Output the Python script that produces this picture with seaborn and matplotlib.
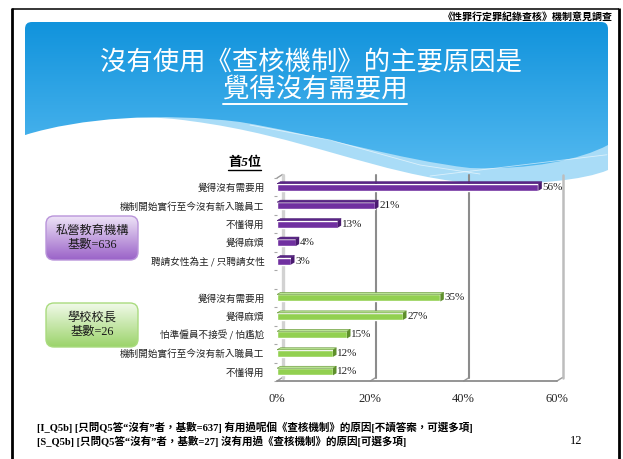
import numpy as np
import pandas as pd
import matplotlib
matplotlib.use("Agg")
import matplotlib.pyplot as plt
import seaborn as sns
from matplotlib.patches import Polygon, FancyBboxPatch, PathPatch
from matplotlib.path import Path
import matplotlib.transforms as mtransforms
from matplotlib.colors import to_rgb

# ---------------- data ----------------
groups = ["私營教育機構", "學校校長"]
group_bases = [636, 26]
private_reasons = ["覺得沒有需要用", "機制開始實行至今沒有新入職員工", "不懂得用",
                   "覺得麻煩", "聘請女性為主 / 只聘請女性"]
private_values = [56, 21, 13, 4, 3]
school_reasons = ["覺得沒有需要用", "覺得麻煩", "怕準僱員不接受 / 怕尷尬",
                  "機制開始實行至今沒有新入職員工", "不懂得用"]
school_values = [35, 27, 15, 12, 12]
x_ticks = [0, 20, 40, 60]

title_line1 = "沒有使用《查核機制》的主要原因是"
title_line2 = "覺得沒有需要用"
header_text = "《性罪行定罪紀錄查核》機制意見調查"
subtitle_text = "首5位"
footnotes = ["[I_Q5b] [只問Q5答“沒有”者，基數=637] 有用過呢個《查核機制》的原因[不讀答案，可選多項]",
             "[S_Q5b] [只問Q5答“沒有”者，基數=27] 沒有用過《查核機制》的原因[可選多項]"]
page_number = "12"

colors = {groups[0]: "#7030A0", groups[1]: "#92D050"}
top_colors = {groups[0]: "#5A2589", groups[1]: "#B9E394"}
side_colors = {groups[0]: "#4A1A70", groups[1]: "#5E8F2C"}

rows = []
for g, reasons, vals in [(groups[0], private_reasons, private_values),
                         (groups[1], school_reasons, school_values)]:
    for r, v in zip(reasons, vals):
        rows.append({"group": g, "reason": r, "key": f"{g}|{r}", "value": v})
df = pd.DataFrame(rows)
order = ([f"{groups[0]}|{r}" for r in private_reasons] + ["__gap__"] +
         [f"{groups[1]}|{r}" for r in school_reasons])
tick_labels = private_reasons + [""] + school_reasons

# ---------------- figure ----------------
sns.set_style("white")
plt.rcParams["font.family"] = ["Liberation Serif", "Noto Sans CJK TC", "DejaVu Sans"]
CJK = ["Noto Sans CJK TC", "DejaVu Sans"]
SERIF_CJK = ["Liberation Serif", "Noto Sans CJK TC"]

W, H = 623, 459
fig = plt.figure(figsize=(W / 100, H / 100), dpi=100)
fig.patch.set_facecolor("white")

bg = fig.add_axes([0, 0, 1, 1], zorder=0)
bg.set_xlim(0, W)
bg.set_ylim(H, 0)
bg.axis("off")

# slide frame
bg.plot([11.5, 11.5], [8, H], color="black", lw=2.0, solid_capstyle="butt")
bg.plot([11.5, 619], [8.5, 8.5], color="black", lw=1.1, solid_capstyle="butt")
bg.plot([618.5, 618.5], [8, H], color="black", lw=2.0, solid_capstyle="butt")

# banner: light band shape and solid gradient shape
M, L, C = Path.MOVETO, Path.LINETO, Path.CURVE4
band_bottom = [(608, 170), (585, 180), (530, 186), (470, 183),
               (380, 175), (300, 135), (190, 121),
               (130, 112), (60, 120), (25, 135)]
blue_bottom = [(608, 145), (580, 160), (530, 170), (470, 168),
               (400, 160), (320, 135), (240, 122),
               (160, 112), (80, 118), (25, 135)]

def make_path(bottom):
    verts = [(25, 30), (25, 24), (27, 22), (33, 22), (600, 22), (606, 22), (608, 24), (608, 30)]
    codes = [M, C, C, C, L, C, C, C]
    verts.append(bottom[0]); codes.append(L)
    for v in bottom[1:]:
        verts.append(v); codes.append(C)
    verts.append((25, 30)); codes.append(L)
    verts.append((25, 30)); codes.append(Path.CLOSEPOLY)
    return Path(verts, codes)

band_patch = PathPatch(make_path(band_bottom), facecolor="#A9DCF7", edgecolor="none", zorder=1)
bg.add_patch(band_patch)
blue_patch = PathPatch(make_path(blue_bottom), facecolor="none", edgecolor="none", zorder=2)
bg.add_patch(blue_patch)
top_c = np.array(to_rgb("#1193DC"))
bot_c = np.array(to_rgb("#57BBF1"))
t = np.linspace(0, 1, 200)[:, None]
grad = (top_c * (1 - t) + bot_c * t)[:, None, :]
im = bg.imshow(grad, extent=[25, 608, 180, 22], aspect="auto", zorder=2, interpolation="bilinear")
im.set_clip_path(blue_patch)
# faint white curves in the wave band
bg.plot(*zip(*[(250, 125), (330, 140), (420, 165), (480, 174)]), color="white", lw=0.6, alpha=0.6, zorder=3)
xs = np.linspace(430, 607, 50)
bg.plot(xs, 176 - (xs - 430) * 0.12, color="white", lw=0.6, alpha=0.6, zorder=3)
bg.set_xlim(0, W)
bg.set_ylim(H, 0)

# titles
bg.text(311, 62, title_line1, ha="center", va="center", color="white",
        fontsize=19, family=CJK, zorder=5)
t2 = bg.text(315, 89, title_line2, ha="center", va="center", color="white",
             fontsize=19, family=CJK, zorder=5)
bg.text(613, 17, header_text, ha="right", va="center", color="black",
        fontsize=7.2, family=CJK, fontweight="bold", style="italic", zorder=5)
st = bg.text(228, 163, subtitle_text, ha="left", va="center", color="black",
             fontsize=9.5, family=SERIF_CJK, fontweight="bold", style="italic", zorder=5)
for i, line in enumerate(footnotes):
    bg.text(37, 427 + 14 * i, line, ha="left", va="center", color="black",
            fontsize=7.6, family=SERIF_CJK, fontweight="bold", zorder=5)
bg.text(570, 441, page_number, ha="left", va="center", color="black",
        fontsize=9, family=SERIF_CJK, zorder=5)

# group boxes
box_specs = [
    (groups[0], group_bases[0], 216, "#EEE4F7", "#9A62C8", "#B994DA"),
    (groups[1], group_bases[1], 303, "#F1FAE9", "#9BD36A", "#A9DB7E"),
]
for name, base, ytop, ctop, cbot, cedge in box_specs:
    box = FancyBboxPatch((46, ytop), 92, 44, boxstyle="round,pad=0,rounding_size=8",
                         facecolor="none", edgecolor=cedge, lw=1.0, zorder=4)
    bg.add_patch(box)
    g = (np.array(to_rgb(ctop)) * (1 - t) + np.array(to_rgb(cbot)) * t)[:, None, :]
    gi = bg.imshow(g, extent=[46, 138, ytop + 44, ytop], aspect="auto", zorder=3, interpolation="bilinear")
    gi.set_clip_path(box)
    bg.text(92, ytop + 22, f"{name}\n基數={base}", ha="center", va="center",
            fontsize=8.8, family=SERIF_CJK, linespacing=1.25, color="#1A1A1A", zorder=5)
bg.set_xlim(0, W)
bg.set_ylim(H, 0)

# ---------------- chart ----------------
ax = fig.add_axes([277 / W, 1 - 381 / H, 280 / W, 203 / H], zorder=2)
ax.patch.set_alpha(0)
sns.barplot(data=df, y="key", x="value", hue="group", order=order,
            hue_order=groups, palette=colors, orient="h", dodge=False,
            width=0.38, saturation=1, legend=False, ax=ax, zorder=3)
ax.set_xlim(0, 60)
ax.set_ylim(10.5, -0.5)
for s in ax.spines.values():
    s.set_visible(False)
ax.set_xlabel("")
ax.set_ylabel("")

# 3-D faces derived from the seaborn bars
dx, dy = 0.75, 0.11
for p in ax.patches:
    w = p.get_width()
    if not np.isfinite(w) or w <= 0:
        continue
    x0, y0, h = p.get_x(), p.get_y(), p.get_height()
    x1 = x0 + w
    fc = p.get_facecolor()
    key = groups[0] if np.allclose(fc[:3], to_rgb(colors[groups[0]]), atol=0.02) else groups[1]
    ax.add_patch(Polygon([(x0, y0), (x0 + dx, y0 - dy), (x1 + dx, y0 - dy), (x1, y0)],
                         closed=True, facecolor=top_colors[key], edgecolor=side_colors[key],
                         lw=0.4, zorder=4))
    ax.add_patch(Polygon([(x1, y0), (x1 + dx, y0 - dy), (x1 + dx, y0 + h - dy), (x1, y0 + h)],
                         closed=True, facecolor=side_colors[key], edgecolor="none", zorder=4))

for cont in ax.containers:
    ax.bar_label(cont, fmt="%g%%", padding=3.2, fontsize=8, family=SERIF_CJK, color="#222222")

# back wall grid lines (offset for 3-D depth)
off = mtransforms.ScaledTranslation(0.055, 0.03, fig.dpi_scale_trans)
wall_tr = ax.get_xaxis_transform() + off
ax.plot([0, 0], [0, 1], color="#D2D2D2", lw=2.4, transform=wall_tr, zorder=1, clip_on=False)
for xv in x_ticks[1:]:
    ax.plot([xv, xv], [0, 1], color="#8C8C8C" if xv < 60 else "#BDBDBD",
            lw=1.5 if xv < 60 else 1.8, transform=wall_tr, zorder=1, clip_on=False)
ax.axhline(10.5, color="#8C8C8C", lw=1.3, zorder=1, clip_on=False)

ax.set_xticks(x_ticks)
ax.set_xticklabels([f"{v}%" for v in x_ticks], fontsize=9, family=SERIF_CJK)
ax.tick_params(axis="x", length=0, pad=9)
ax.set_yticks(range(len(order)))
ax.set_yticklabels(tick_labels, fontsize=6.9, family=CJK, color="#222222")
ax.set_yticks(np.arange(-0.5, len(order), 1.0), minor=True)
ax.tick_params(axis="y", which="major", length=0, pad=9)
ax.tick_params(axis="y", which="minor", length=2.5, color="#A8A8A8", width=0.8, left=True)

# floor diagonal ticks
fig.canvas.draw()
to_bg = bg.transData.inverted()
for xv in x_ticks:
    px, py = to_bg.transform(ax.transData.transform((xv, 10.5)))
    bg.plot([px, px + 5.5], [py, py - 3.5], color="#9A9A9A", lw=1.0, zorder=3)
px, py = to_bg.transform(ax.transData.transform((0, -0.5)))
bg.plot([px, px + 5.5], [py, py - 3.5], color="#9A9A9A", lw=1.0, zorder=3)

# underlines computed from the text extents
r = fig.canvas.get_renderer()
for txt, gap, lw in [(t2, 2, 1.4), (st, 1, 1.0)]:
    bb = txt.get_window_extent(r)
    (ax0, ay0), (ax1, ay1) = to_bg.transform([[bb.x0, bb.y0], [bb.x1, bb.y1]])
    bg.plot([ax0, ax1], [ay0 + gap, ay0 + gap], color=txt.get_color(), lw=lw, zorder=5)
bg.set_xlim(0, W)
bg.set_ylim(H, 0)

fig.savefig("out.png", dpi=100, facecolor="white")
